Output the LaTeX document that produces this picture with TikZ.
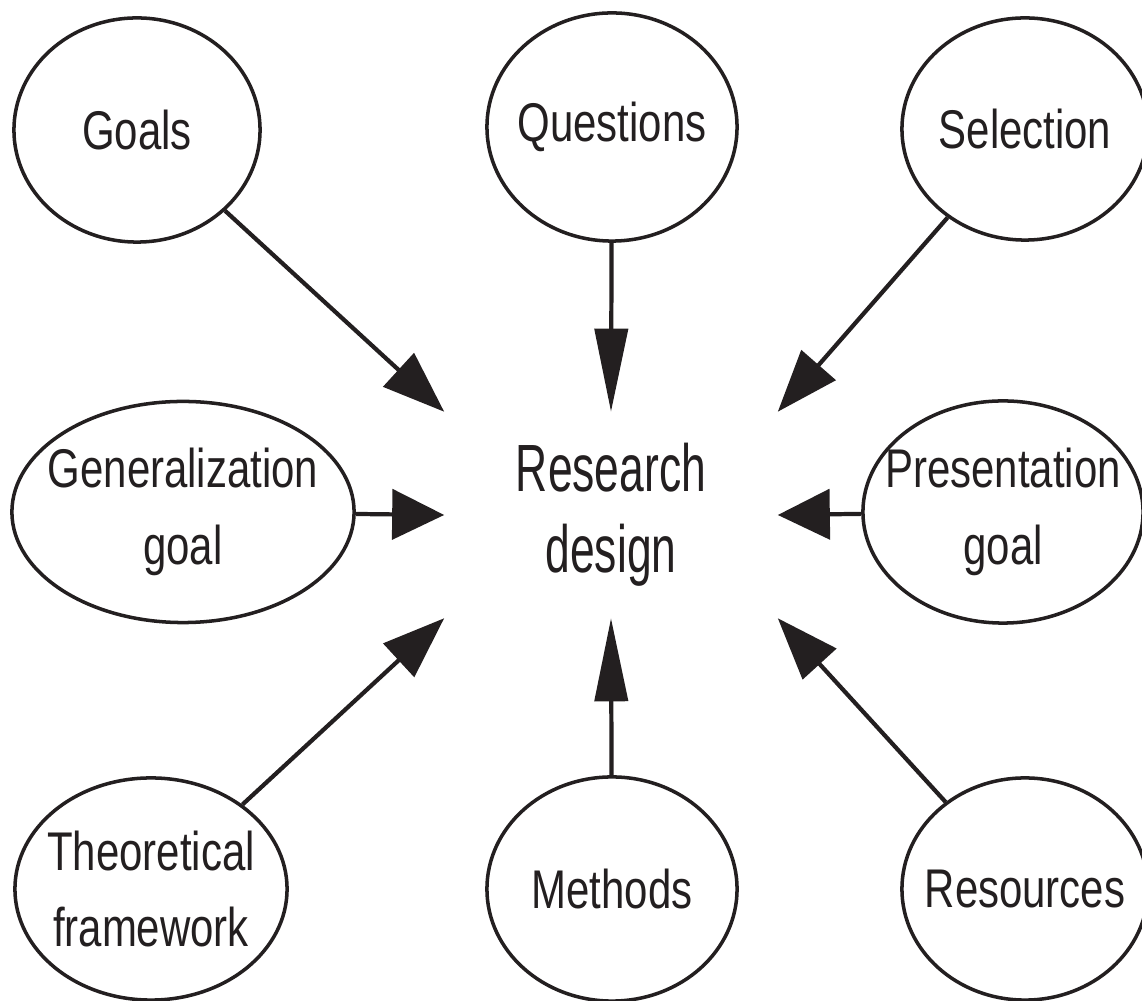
\documentclass[tikz,border=0pt]{standalone}
\usepackage{fontspec}
\setmainfont{Liberation Sans}[FakeStretch=0.77]
\newfontfamily\rdfont{Liberation Sans}[FakeStretch=0.665]
\usetikzlibrary{shapes.geometric,arrows.meta}
\definecolor{ink}{HTML}{231F20}

\begin{document}
\begin{tikzpicture}[x=0.01cm,y=-0.01cm,
        vtip/.style={-{Triangle[length=0.83cm,width=0.33cm]},draw=ink,line width=1.2pt},
        htip/.style={-{Triangle[length=0.52cm,width=0.50cm]},draw=ink,line width=1.2pt},
        dtip/.style={-{Triangle[length=0.62cm,width=0.45cm]},draw=ink,line width=1.2pt}]
            \useasboundingbox (0,0) rectangle (1142,1001);
            \begin{scope}[every node/.style={ellipse,draw=ink,line width=1pt,inner xsep=-1cm,inner ysep=0pt,align=center,text=ink,font=\fontsize{15.5}{21.8}\selectfont}]
                \node[minimum width=2.46cm,minimum height=2.24cm] (goals) at (137,130) {Goals};
                \node[minimum width=2.50cm,minimum height=2.28cm] (quest) at (612,127) {Questions};
                \node[minimum width=2.46cm,minimum height=2.22cm] (select) at (1025,129) {Selection};
                \node[minimum width=3.42cm,minimum height=2.21cm] (genz) at (183,512) {Generalization\\goal};
                \node[minimum width=2.80cm,minimum height=2.22cm] (pres) at (1003,512) {Presentation\\goal};
                \node[minimum width=2.72cm,minimum height=2.22cm] (theo) at (151,889) {Theoretical\\framework};
                \node[minimum width=2.50cm,minimum height=2.24cm] (meth) at (612,889) {Methods};
                \node[minimum width=2.46cm,minimum height=2.22cm] (resrc) at (1025,889) {Resources};
            \end{scope}
            \node[align=center,text=ink,inner sep=0pt,minimum width=3.32cm,minimum height=2.05cm,
                font=\rdfont\fontsize{19}{23}\selectfont] (rd) at (611,515) {Research\\design};
            \draw (goals) edge [dtip] (rd.north west);
            \draw (quest) edge [vtip] (rd.north);
            \draw (select) edge [dtip] (rd.north east);
            \draw (genz) edge [htip] (rd.west);
            \draw (pres) edge [htip] (rd.east);
            \draw (theo) edge [dtip] (rd.south west);
            \draw (meth) edge [vtip] (rd.south);
            \draw (resrc) edge [dtip] (rd.south east);
        \end{tikzpicture}
\end{document}
